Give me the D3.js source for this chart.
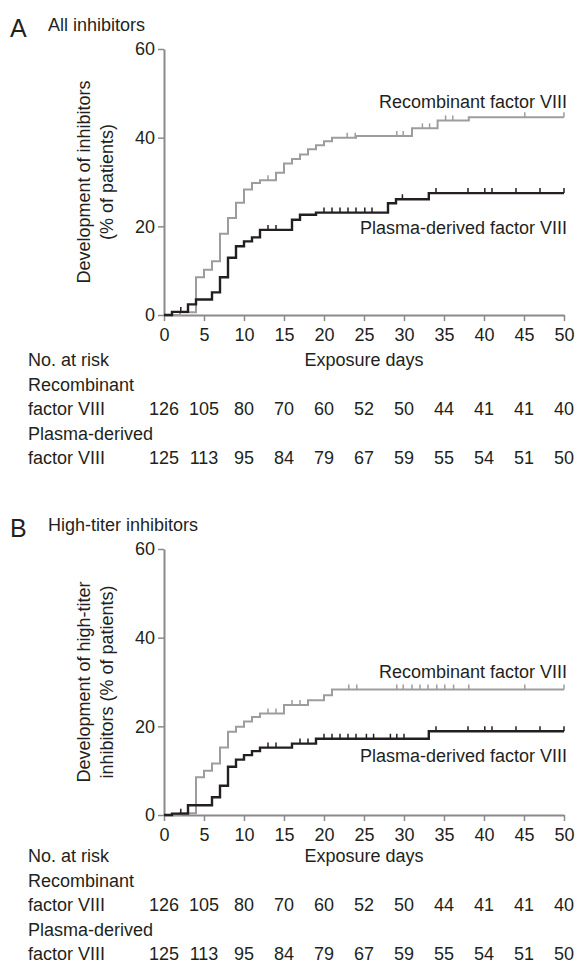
<!DOCTYPE html>
<html>
<head>
<meta charset="utf-8">
<script src="https://cdn.jsdelivr.net/npm/d3@7"></script>
<style>
  body { margin: 0; background: #fff; }
  svg { display: block; font-family: "Liberation Sans", Arial, Helvetica, sans-serif; }
</style>
</head>
<body>
<div id="chart"></div>
<script>
'use strict';

// tick days and numbers at risk (same table under both panels)
let riskDays = [0, 5, 10, 15, 20, 25, 30, 35, 40, 45, 50];
let riskRecombinant = [126, 105, 80, 70, 60, 52, 50, 44, 41, 41, 40];
let riskPlasma = [125, 113, 95, 84, 79, 67, 59, 55, 54, 51, 50];
let yTicks = [0, 20, 40, 60];

// panel A - all inhibitors (step times, % after step, censor marks)
let allRecDays = [0, 2, 4, 5, 6, 7, 8, 9, 10, 11, 12, 14, 15, 16, 17, 18, 19, 20, 21, 24, 31, 34.2, 38.1];
let allRecPct  = [0, 0.6, 8.5, 10.2, 12.1, 18.3, 21.9, 25.3, 28.3, 29.8, 30.4, 32.1, 34.2, 35.2, 36.2, 37.4, 38.3, 39.2, 40.0, 40.4, 42.1, 43.9, 44.6];
let allRecCensor = [13, 22.9, 23.9, 29.1, 29.9, 32.3, 33.2, 35.2, 36.1, 45.1, 50];

let allPlaDays = [0, 1, 3, 4, 6, 7, 8, 9, 10, 11, 12, 16, 17, 19, 28, 29, 33.1];
let allPlaPct  = [0, 0.7, 2.4, 3.5, 5.1, 8.5, 12.9, 15.5, 16.6, 17.5, 19.2, 21.5, 22.6, 23.1, 25.2, 26.1, 27.5];
let allPlaCensor = [2.1, 13, 14, 20, 21, 22, 23, 24, 25.1, 26, 29.8, 34, 38, 40.1, 41, 44, 47, 50];

// panel B - high-titer inhibitors
let highRecDays = [0, 2, 4, 5, 6, 7, 8, 9, 10, 11, 12, 15, 18, 20, 21];
let highRecPct  = [0, 0.4, 8.5, 10.0, 11.6, 15.2, 18.8, 19.9, 21.1, 22.1, 22.9, 24.8, 25.9, 27.0, 28.3];
let highRecCensor = [13, 14, 16, 17, 23.1, 24.1, 29.1, 29.9, 31, 32, 33, 34.1, 35.1, 36.2, 38.1, 45.1, 50];

let highPlaDays = [0, 1, 3, 6, 7, 8, 9, 10, 11, 12, 16, 19, 33.1];
let highPlaPct  = [0, 0.3, 2.2, 4.0, 6.6, 10.9, 12.5, 13.5, 14.4, 15.2, 16.1, 17.2, 18.9];
let highPlaCensor = [2.1, 13, 14, 17, 18, 20, 21, 22, 23, 24, 25.3, 26.2, 28.3, 29.1, 30, 34, 38, 40.1, 41, 44, 47, 50];

let panels = [
  { top: 0, letter: 'A', title: 'All inhibitors',
    yLabel: ['Development of inhibitors', '(% of patients)'],
    rec: [allRecDays, allRecPct, allRecCensor], pla: [allPlaDays, allPlaPct, allPlaCensor],
    recLabelY: 108, plaLabelY: 234, tableShift: 0 },
  { top: 500, letter: 'B', title: 'High-titer inhibitors',
    yLabel: ['Development of high-titer', 'inhibitors (% of patients)'],
    rec: [highRecDays, highRecPct, highRecCensor], pla: [highPlaDays, highPlaPct, highPlaCensor],
    recLabelY: 178, plaLabelY: 262, tableShift: -4 }
];

let width = 577, height = 965;
let textColor = '#231f20', axisColor = '#8a8a8a', recColor = '#9d9d9d', plaColor = '#231f20';

let svg = d3.select('#chart').append('svg')
    .attr('width', width)
    .attr('height', height);

let x = d3.scaleLinear().domain([0, 50]).range([164, 564]);

let stepLine = d3.line()
    .curve(d3.curveStepAfter);

function valueAt(days, pct, t) {
  let i = d3.bisectRight(days, t) - 1;
  return pct[Math.max(0, i)];
}

panels.forEach(function(p) {
  let oy = p.top;
  let y = d3.scaleLinear().domain([0, 60]).range([oy + 315, oy + 49]);
  let g = svg.append('g');

  // panel letter and title
  g.append('text')
      .attr('x', 10).attr('y', oy + 37)
      .attr('font-size', 25).attr('fill', textColor)
      .text(p.letter);
  g.append('text')
      .attr('x', 48).attr('y', oy + 31)
      .attr('font-size', 18).attr('fill', textColor)
      .text(p.title);

  //yAxis
  let yAxis = g.append('g')
      .attr('transform', 'translate(' + x(0) + ',0)')
      .call(d3.axisLeft(y).tickValues(yTicks).tickSize(6).tickSizeOuter(0).tickPadding(3));
  //xAxis
  let xAxis = g.append('g')
      .attr('transform', 'translate(0,' + y(0) + ')')
      .call(d3.axisBottom(x).tickValues(riskDays).tickSize(6).tickSizeOuter(0).tickPadding(7));

  [yAxis, xAxis].forEach(function(a) {
    a.select('.domain').attr('stroke', axisColor).attr('stroke-width', 2);
    a.selectAll('.tick line').attr('stroke', axisColor).attr('stroke-width', 1.5);
    a.selectAll('.tick text')
        .attr('font-size', 18)
        .attr('fill', textColor)
        .attr('font-family', '"Liberation Sans", Arial, Helvetica, sans-serif');
  });

  // y axis title, two lines
  p.yLabel.forEach(function(line, i) {
    g.append('text')
        .attr('transform', 'translate(' + (90 + i * 23) + ',' + (oy + 182) + ')rotate(-90)')
        .attr('text-anchor', 'middle')
        .attr('font-size', 18).attr('fill', textColor)
        .text(line);
  });

  // curves
  [[p.rec, recColor, 2], [p.pla, plaColor, 2.4]].forEach(function(s) {
    let days = s[0][0], pct = s[0][1], censor = s[0][2];
    let pts = days.map(function(d, i) { return [x(d), y(pct[i])]; });
    pts.push([x(50), y(pct[pct.length - 1])]);

    g.append('path')
        .attr('d', stepLine(pts))
        .attr('fill', 'none')
        .attr('stroke', s[1])
        .attr('stroke-width', s[2]);

    g.selectAll(null)
        .data(censor)
      .enter().append('line')
        .attr('x1', d => x(d)).attr('x2', d => x(d))
        .attr('y1', d => y(valueAt(days, pct, d)))
        .attr('y2', d => y(valueAt(days, pct, d)) - 5)
        .attr('stroke', s[1])
        .attr('stroke-width', 1.5);
  });

  // curve labels
  g.append('text')
      .attr('x', 567).attr('y', oy + p.recLabelY)
      .attr('text-anchor', 'end')
      .attr('font-size', 18).attr('fill', textColor)
      .text('Recombinant factor VIII');
  g.append('text')
      .attr('x', 567).attr('y', oy + p.plaLabelY)
      .attr('text-anchor', 'end')
      .attr('font-size', 18).attr('fill', textColor)
      .text('Plasma-derived factor VIII');

  // number at risk table
  let ty = oy + p.tableShift;
  let rows = [
    ['No. at risk', 366], ['Recombinant', 391], ['factor VIII', 415],
    ['Plasma-derived', 440], ['factor VIII', 464]
  ];
  rows.forEach(function(r) {
    g.append('text')
        .attr('x', 28).attr('y', ty + r[1])
        .attr('font-size', 18).attr('fill', textColor)
        .text(r[0]);
  });
  g.append('text')
      .attr('x', x(25)).attr('y', ty + 366)
      .attr('text-anchor', 'middle')
      .attr('font-size', 18).attr('fill', textColor)
      .text('Exposure days');

  [[riskRecombinant, 415], [riskPlasma, 464]].forEach(function(r) {
    g.selectAll(null)
        .data(r[0])
      .enter().append('text')
        .attr('x', (d, i) => x(riskDays[i]))
        .attr('y', ty + r[1])
        .attr('text-anchor', 'middle')
        .attr('font-size', 18).attr('fill', textColor)
        .text(d => d);
  });
});
</script>
</body>
</html>
